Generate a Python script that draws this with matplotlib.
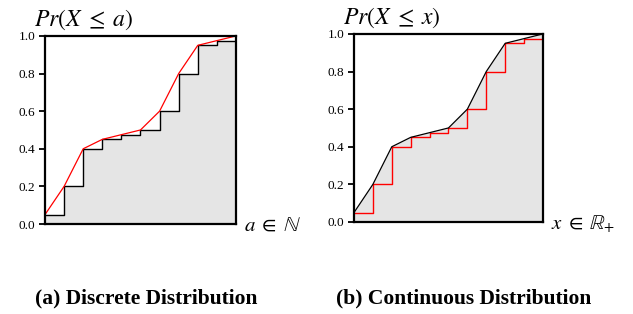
import matplotlib
matplotlib.use("Agg")
import matplotlib.pyplot as plt
import numpy as np

plt.rcParams["mathtext.fontset"] = "stix"
plt.rcParams["font.family"] = "Liberation Serif"

# cumulative probabilities at the 11 support points
positions = [0, 1, 2, 3, 4, 5, 6, 7, 8, 9, 10]
cdfValues = [0.05, 0.2, 0.4, 0.45, 0.475, 0.5, 0.6, 0.8, 0.95, 0.975, 1.0]
yTicks = [0.0, 0.2, 0.4, 0.6, 0.8, 1.0]

titles = [r"$Pr(X\;\leq\;a)$", r"$Pr(X\;\leq\;x)$"]
xLabels = [r"$a\;\in\;\mathbb{N}$", r"$x\;\in\;\mathbb{R}_{+}$"]
captions = ["(a) Discrete Distribution", "(b) Continuous Distribution"]
captionCenters = [146 / 633, 464 / 633]

fig = plt.figure(figsize=(6.33, 3.14), dpi=100)
axLeft = fig.add_axes([0.0711, 0.2866, 0.3017, 0.599])
axRight = fig.add_axes([0.5592, 0.2930, 0.2986, 0.599])

fillColor = "#e5e5e5"

# discrete: shaded step, red linear interpolation on top
axLeft.fill_between(positions, cdfValues, step="post", color=fillColor, lw=0)
axLeft.step(positions, cdfValues, where="post", color="black", lw=1.0)
axLeft.plot(positions, cdfValues, color="red", lw=0.9)

# continuous: shaded piecewise-linear, red step on top
axRight.fill_between(positions, cdfValues, color=fillColor, lw=0)
axRight.step(positions, cdfValues, where="post", color="red", lw=1.0)
axRight.plot(positions, cdfValues, color="black", lw=0.9)

for axis, title, xLabel, caption, cx in zip(
    (axLeft, axRight), titles, xLabels, captions, captionCenters
):
    axis.set_xlim(0, 10)
    axis.set_ylim(0, 1)
    axis.set_xticks([])
    axis.set_yticks(yTicks)
    axis.set_yticklabels([f"{t:.1f}" for t in yTicks], fontsize=9.5)
    axis.tick_params(axis="y", length=4, width=1.3, pad=3)
    for spine in axis.spines.values():
        spine.set_linewidth(1.6)
    axis.text(-0.06, 1.02, title, transform=axis.transAxes, fontsize=17,
              ha="left", va="bottom")
    axis.text(1.04, -0.01, xLabel, transform=axis.transAxes, fontsize=15,
              ha="left", va="center")
    fig.text(cx, 16 / 314, caption, fontsize=15.5, fontweight="bold",
             ha="center", va="center")

fig.savefig("out.png", dpi=100)
